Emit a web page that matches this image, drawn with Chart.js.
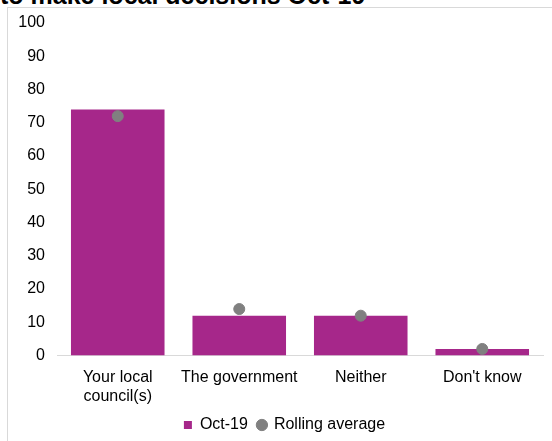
<!DOCTYPE html>
<html><head><meta charset="utf-8">
<script src="https://cdn.jsdelivr.net/npm/chart.js@4"></script>
<style>
html,body{margin:0;padding:0;background:#fff;width:552px;height:441px;overflow:hidden;font-family:"Liberation Sans",Arial,sans-serif;}
#title{position:absolute;left:0;top:-19px;font-weight:bold;font-size:25px;color:#000;white-space:nowrap;}
#box{position:absolute;left:7px;top:7px;width:560px;height:450px;border-left:1px solid #d9d9d9;border-top:1px solid #d9d9d9;background:#fff;}
#wrap{position:absolute;left:8px;top:8px;width:544px;height:433px;}
</style></head><body>
<div id="title">to make local decisions Oct-19</div>
<div id="box"></div>
<div id="wrap"><canvas id="c" width="544" height="433"></canvas></div>
<script>
const categories = [["Your local","council(s)"], "The government", "Neither", "Don't know"];
const oct19 = [74, 12, 12, 2];
const rollingAverage = [72, 14, 12, 2];
const yTicks = [0,10,20,30,40,50,60,70,80,90,100];

Chart.defaults.font.family = '"Liberation Sans", Arial, sans-serif';
Chart.defaults.font.size = 16;
Chart.defaults.color = '#000';

const legendTweak = {
  id:'legendTweak',
  afterInit(chart){
    const l = chart.legend;
    if(l && !l._wrapped){
      const orig = l.fit.bind(l);
      l.fit = function(){ orig(); this.height -= 11; this.bottom = this.top + this.height; };
      l._wrapped = true;
    }
  },
  afterLayout(chart){ const l = chart.legend; if(l){ l.left += 9; l.right += 9; l.top -= 11; l.bottom -= 11; } }
};

new Chart(document.getElementById('c'), {
  data: {
    labels: categories,
    datasets: [
      {type:'bar', label:'Oct-19', data: oct19, backgroundColor:'#A6278A', categoryPercentage:1, barPercentage:0.77, order:2, pointStyle:'rect'},
      {type:'line', label:'Rolling average', data: rollingAverage, showLine:false, pointRadius:5.5, pointHoverRadius:5.5, pointBackgroundColor:'#808080', pointBorderColor:'#808080', backgroundColor:'#808080', borderColor:'#808080', order:1, pointStyle:'circle'}
    ]
  },
  plugins:[legendTweak],
  options: {
    responsive:false, animation:false,
    layout:{padding:{top:15,right:9,left:0,bottom:-2}},
    plugins:{
      tooltip:{enabled:false},
      legend:{position:'bottom', labels:{usePointStyle:true, boxWidth:8, boxHeight:8, padding:10, font:{size:16}, sort:(a,b)=>a.datasetIndex-b.datasetIndex}}
    },
    scales:{
      x:{grid:{display:false, drawTicks:false}, border:{display:true,color:'#d9d9d9'}, ticks:{padding:12, maxRotation:0, font:{size:16}}},
      y:{min:0,max:100, afterBuildTicks:(s)=>{s.ticks = yTicks.map(v=>({value:v}));}, grid:{display:false, drawTicks:false}, border:{display:false}, ticks:{padding:12, font:{size:16}}, afterFit:(s)=>{s.width=49; s.paddingTop=0; s.paddingBottom=0;}}
    }
  }
});
</script>
</body></html>
